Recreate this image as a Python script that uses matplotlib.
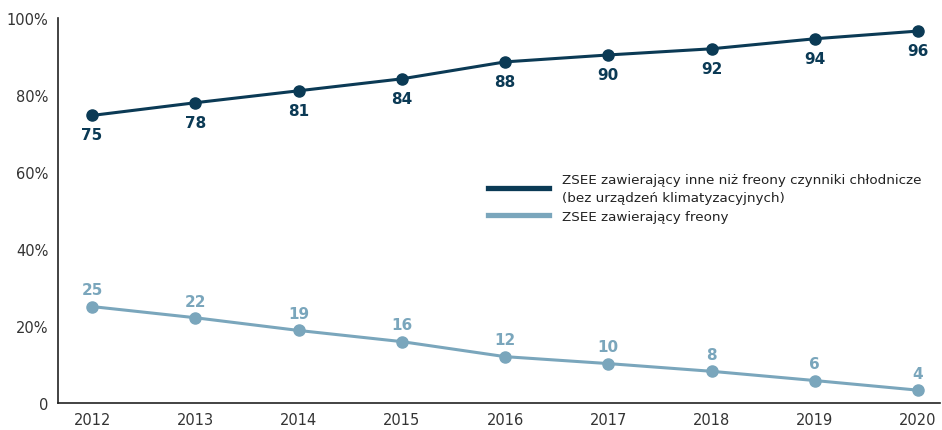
import matplotlib.pyplot as plt
from matplotlib.lines import Line2D

years = [2012, 2013, 2014, 2015, 2016, 2017, 2018, 2019, 2020]
inne = [74.7, 78.0, 81.1, 84.2, 88.6, 90.4, 92.0, 94.6, 96.6]
inne_lbl = ['75', '78', '81', '84', '88', '90', '92', '94', '96']
freony = [25.1, 22.2, 18.9, 16.0, 12.1, 10.3, 8.3, 5.9, 3.4]
freony_lbl = ['25', '22', '19', '16', '12', '10', '8', '6', '4']

dark = '#0b3a55'
light = '#7aa6bc'

plt.rcParams['font.family'] = 'DejaVu Sans'

fig = plt.figure(figsize=(9.42, 4.31), dpi=100)
ax = fig.add_axes([0.0616, 0.062, 0.936, 0.894])

ax.plot(years, inne, color=dark, lw=2.2, marker='o', ms=8)
ax.plot(years, freony, color=light, lw=2.2, marker='o', ms=8)

for x, y, t in zip(years, inne, inne_lbl):
    ax.annotate(t, (x, y), xytext=(0, -14), textcoords='offset points',
                ha='center', va='center', fontsize=11, fontweight='bold', color=dark)
for x, y, t in zip(years, freony, freony_lbl):
    ax.annotate(t, (x, y), xytext=(0, 12), textcoords='offset points',
                ha='center', va='center', fontsize=11, fontweight='bold', color=light)

ax.set_xlim(2011.67, 2020.21)
ax.set_ylim(0, 100)
ax.set_xticks(years)
ax.set_yticks([0, 20, 40, 60, 80, 100])
ax.set_yticklabels(['0', '20%', '40%', '60%', '80%', '100%'])
ax.tick_params(length=0, labelsize=10.5, colors='#333333')
ax.tick_params(axis='x', pad=6)
ax.tick_params(axis='y', pad=7)
for s in ['top', 'right']:
    ax.spines[s].set_visible(False)
for s in ['left', 'bottom']:
    ax.spines[s].set_color('#222222')
    ax.spines[s].set_linewidth(1.2)

handles = [Line2D([], [], color=dark, lw=3.8), Line2D([], [], color=light, lw=3.8)]
labels = ['ZSEE zawierający inne niż freony czynniki chłodnicze\n(bez urządzeń klimatyzacyjnych)',
          'ZSEE zawierający freony']
leg = ax.legend(handles, labels, loc='upper left', bbox_to_anchor=(0.474, 0.63), frameon=False,
                fontsize=9.7, handlelength=4.5, handletextpad=1.0, labelspacing=0.45,
                labelcolor='#222222')
for t in leg.get_texts():
    t.set_linespacing(1.5)

fig.savefig('out.png', dpi=100)
